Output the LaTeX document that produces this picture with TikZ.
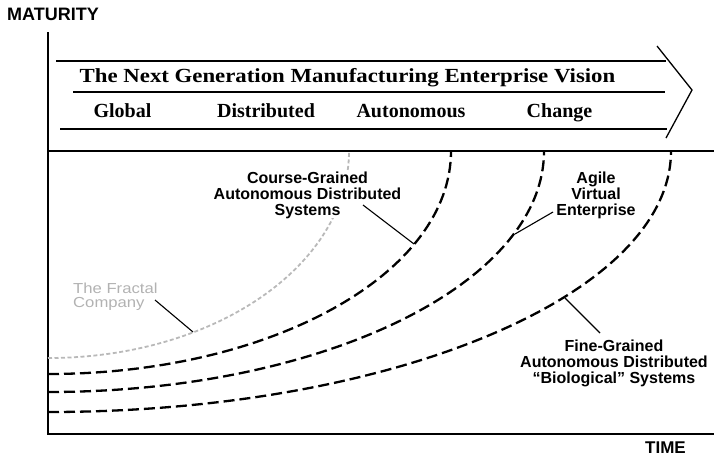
\documentclass[tikz,border=0pt]{standalone}
\usepackage{fontspec}
\setmainfont{Liberation Sans}
\newfontfamily\bandfont{Liberation Serif}
\newfontfamily\bandtitlefont[FakeStretch=1.14]{Liberation Serif}
\newfontfamily\fractalfont[FakeStretch=1.15]{Liberation Sans}
\usepackage{tikz}

\begin{document}
\begin{tikzpicture}[x=1pt,y=-1pt]
%\tikzstyle{lbl}=[font=\bfseries,align=center]
\useasboundingbox (0,0) rectangle (714,459);
\tikzset{
  lbl/.style={font=\bfseries\fontsize{16}{16}\selectfont,align=center,inner sep=0pt},
  bandlbl/.style={font=\bandfont\bfseries\fontsize{20}{20}\selectfont,anchor=base,inner sep=0pt},
  axislbl/.style={font=\bfseries\fontsize{18}{18}\selectfont,anchor=base west,inner sep=0pt},
  dashcurve/.style={line width=2.3pt,dash pattern=on 11pt off 5pt},
  fractalcurve/.style={gray!55,line width=1.8pt,dash pattern=on 4pt off 2.5pt},
  leader/.style={line width=1.1pt}
}

% axes
\coordinate (o) at (48,434);
\coordinate (ytop) at (48,32);
\coordinate (xend) at (714,434);
\coordinate (sl) at (48,151);
\coordinate (sr) at (714,151);
\draw[line width=2pt] (ytop) -- (o) -- (xend);
\draw[line width=1.4pt] (sl) -- (sr);
\node[axislbl] (mat) at (7,20) {MATURITY};
\node[axislbl,font=\bfseries\fontsize{17}{17}\selectfont] (time) at (645,453) {TIME};

% vision arrow
\coordinate (ta) at (56,61);   \coordinate (tb) at (666,61);
\coordinate (ma) at (73,92);   \coordinate (mb) at (665,92);
\coordinate (ba) at (60,129);  \coordinate (bb) at (667,129);
\coordinate (tipa) at (657,46);
\coordinate (tip) at (692,90);
\coordinate (tipb) at (666,138);
\begin{scope}[line width=1.3pt]
    \draw (ta) -- (tb);
    \draw (ma) -- (mb);
    \draw (ba) -- (bb);
    \draw (tipa) -- (tip) -- (tipb);
\end{scope}
\node[bandlbl,font=\bandtitlefont\bfseries\fontsize{20}{20}\selectfont] (vision) at (347.5,82)
    {The Next Generation Manufacturing Enterprise Vision};
\node[bandlbl] (glob) at (122.5,117) {Global};
\node[bandlbl] (dist) at (266,117) {Distributed};
\node[bandlbl] (auto) at (411,117) {Autonomous};
\node[bandlbl] (chng) at (559.5,117) {Change};

% curves: quarter ellipses round the corner (sl)
\coordinate (fr0) at (48,358);
\coordinate (cg0) at (48,374);
\coordinate (av0) at (48,392);
\coordinate (fg0) at (48,412);
\draw[fractalcurve] (fr0) arc[start angle=90, end angle=0, x radius=301, y radius=207];
\draw[dashcurve] (cg0) arc[start angle=90, end angle=0, x radius=403, y radius=223];
\draw[dashcurve] (av0) arc[start angle=90, end angle=0, x radius=496, y radius=241];
\draw[dashcurve] (fg0) arc[start angle=90, end angle=0, x radius=623, y radius=261];

% labels
\node[lbl,fill=white] (cgads) at (307.5,195) {Course-Grained\\Autonomous Distributed\\Systems};
\node[lbl] (ave) at (596,195) {Agile\\Virtual\\Enterprise};
\node[lbl] (fgads) at (614,363.4) {Fine-Grained\\Autonomous Distributed\\``Biological'' Systems};
\node[gray!60,font=\fractalfont\fontsize{14.5}{14.5}\selectfont,align=left,inner sep=0pt,anchor=west]
    (fractal) at (73,296.5) {The Fractal\\Company};

% leaders
\coordinate (fca) at (155,300);  \coordinate (fcb) at (193,332);
\coordinate (cga) at (363,205);  \coordinate (cgb) at (414,244);
\coordinate (avea) at (553,212); \coordinate (aveb) at (515,234);
\coordinate (fga) at (600,333);  \coordinate (fgb) at (565,298);
\path [leader] (fca) edge (fcb);
\path [leader] (cga) edge (cgb);
\path [leader] (avea) edge (aveb);
\path [leader] (fga) edge (fgb);
\end{tikzpicture}
\end{document}
